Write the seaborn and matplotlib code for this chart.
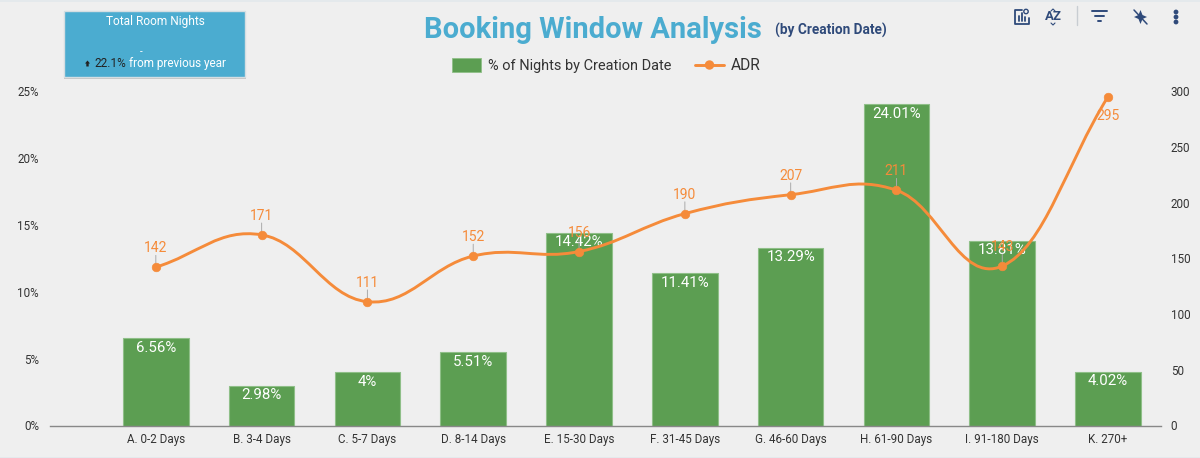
import numpy as np
import pandas as pd
import matplotlib
matplotlib.use('Agg')
import matplotlib.pyplot as plt
import seaborn as sns
from matplotlib.lines import Line2D
from matplotlib.patches import PathPatch, Rectangle, Circle
from matplotlib.path import Path

categories = ['A. 0-2 Days', 'B. 3-4 Days', 'C. 5-7 Days', 'D. 8-14 Days', 'E. 15-30 Days',
              'F. 31-45 Days', 'G. 46-60 Days', 'H. 61-90 Days', 'I. 91-180 Days', 'K. 270+']
pct_nights = [6.56, 2.98, 4.0, 5.51, 14.42, 11.41, 13.29, 24.01, 13.81, 4.02]
pct_labels = ['6.56%', '2.98%', '4%', '5.51%', '14.42%', '11.41%', '13.29%', '24.01%', '13.81%', '4.02%']
adr = [142, 171, 111, 152, 156, 190, 207, 211, 143, 295]
left_ticks = [0, 5, 10, 15, 20, 25]
right_ticks = [0, 50, 100, 150, 200, 250, 300]

GREEN = '#5C9E52'
ORANGE = '#F58B3A'
BLUE = '#4BACD0'
NAVY = '#2F4A7A'
BG = '#EFEFEF'
TEXT = '#333333'

sns.set_theme(style='white')
plt.rcParams['font.family'] = ['Roboto', 'DejaVu Sans']

df = pd.DataFrame({'Window': categories, 'Nights': pct_nights, 'ADR': adr})

fig = plt.figure(figsize=(12, 4.58), dpi=100, facecolor=BG)
W, H = 1200, 458
ax = fig.add_axes([50 / W, 1 - 425.5 / H, (1161 - 50) / W, 334.5 / H], facecolor='none')

sns.barplot(data=df, x='Window', y='Nights', color=GREEN, saturation=1, width=0.62,
            edgecolor='#8FBF88', linewidth=0.8, ax=ax)
ax.set_xlim(-1, 9.5)
ax.set_ylim(0, 25)
ax.set_yticks(left_ticks)
ax.set_yticklabels([f'{t}%' for t in left_ticks], fontsize=8.4, color=TEXT, va='center_baseline')
ax.tick_params(axis='x', labelsize=8.4, labelcolor=TEXT, length=0, pad=5.5)
ax.tick_params(axis='y', length=0, pad=8)
ax.set_xlabel('')
ax.set_ylabel('')
sns.despine(ax=ax, left=True, right=True, top=True)
ax.spines['bottom'].set_color('#888888')
ax.spines['bottom'].set_linewidth(1)

for i, (v, lab) in enumerate(zip(pct_nights, pct_labels)):
    ax.annotate(lab, (i, v), xytext=(0, -2), textcoords='offset points', ha='center', va='top',
                color='white', fontsize=10.8, zorder=6)

ax2 = ax.twinx()
ax2.set_facecolor('none')
ax2.set_ylim(0, 300)
ax2.set_yticks(right_ticks)
ax2.set_yticklabels([str(t) for t in right_ticks], fontsize=8.4, color=TEXT, va='center_baseline')
ax2.tick_params(axis='y', length=0, pad=7)
ax2.set_ylabel('')
ax2.grid(False)
for s in ax2.spines.values():
    s.set_visible(False)

# smooth curve through the ADR points, cardinal spline drawn as beziers
xs = np.arange(len(adr), dtype=float)
ys = np.array(adr, dtype=float)
verts = [(xs[0], ys[0])]
codes = [Path.MOVETO]
k = 0.4
for i in range(len(xs) - 1):
    m0 = (ys[i + 1] - ys[i - 1]) / (xs[i + 1] - xs[i - 1]) if i > 0 else ys[1] - ys[0]
    m1 = (ys[i + 2] - ys[i]) / (xs[i + 2] - xs[i]) if i < len(xs) - 2 else ys[-1] - ys[-2]
    verts += [(xs[i] + k, ys[i] + m0 * k), (xs[i + 1] - k, ys[i + 1] - m1 * k), (xs[i + 1], ys[i + 1])]
    codes += [Path.CURVE4] * 3
ax2.add_patch(PathPatch(Path(verts, codes), fill=False, edgecolor=ORANGE, linewidth=2.1,
                        capstyle='round', zorder=4))
sns.scatterplot(data=df, x=df.index, y='ADR', color=ORANGE, s=38, edgecolor=ORANGE, zorder=5,
                legend=False, ax=ax2)
ax2.set_ylabel('')
ax2.set_xlim(-1, 9.5)

for i, v in enumerate(adr):
    if v == 295:
        ax2.annotate(str(v), (i, v), xytext=(0, -9), textcoords='offset points', ha='center', va='top',
                     color=ORANGE, fontsize=10, zorder=7)
    else:
        ax2.annotate(str(v), (i, v), xytext=(0, 8.5), textcoords='offset points', ha='center', va='bottom',
                     color=ORANGE, fontsize=10, zorder=7)
        ax2.annotate('', (i, v), xytext=(0, 8.5), textcoords='offset points',
                     arrowprops=dict(arrowstyle='-', color='#AAAAAA', lw=0.7, shrinkA=0, shrinkB=0), zorder=3)

# page furniture in pixel coordinates
ui = fig.add_axes([0, 0, 1, 1], facecolor='none', zorder=10)
ui.set_xlim(0, W)
ui.set_ylim(H, 0)
ui.axis('off')
ui.add_patch(Rectangle((0, 0), W, 1.5, color='#E4E9EC', lw=0))
ui.add_patch(Rectangle((0, 456.5), W, 1.5, color='#E4E9EC', lw=0))
ui.add_patch(Rectangle((64, 12), 182, 66.5, facecolor='#C4C4C4', edgecolor='none'))
ui.add_patch(Rectangle((63.5, 11), 181, 66, facecolor=BLUE, edgecolor='#D5DEE2', linewidth=1))
ui.text(155, 22, 'Total Room Nights', color='white', fontsize=8.6, ha='center', va='center')
ui.text(141, 52, '-', color='white', fontsize=7, ha='center', va='center')
ui.add_patch(plt.Polygon([[87.5, 60.5], [85, 63.5], [86.3, 63.5], [86.3, 66.5],
                          [88.7, 66.5], [88.7, 63.5], [90, 63.5]], color='#222222', lw=0))
ui.text(94, 63.5, '22.1%', color='#222222', fontsize=8.5, ha='left', va='center')
ui.text(129, 63.5, 'from previous year', color='white', fontsize=8.45, ha='left', va='center')

ui.text(593, 30, 'Booking Window Analysis', color=BLUE, fontsize=21, fontweight='bold', ha='center', va='center')
ui.text(775, 30, '(by Creation Date)', color=NAVY, fontsize=9.85, fontweight='bold', ha='left', va='center')

ui.add_patch(Rectangle((452, 58), 29, 14, facecolor=GREEN, edgecolor='#8FBF88', linewidth=0.6))
ui.text(488, 65.7, '% of Nights by Creation Date', color=TEXT, fontsize=10.45, ha='left', va='center')
ui.add_line(Line2D([695, 724], [65, 65], color=ORANGE, lw=2.1))
ui.add_patch(Circle((709.5, 65), 4, color=ORANGE))
ui.text(731, 65.7, 'ADR', color=TEXT, fontsize=11.2, ha='left', va='center')

# toolbar icons
ui.add_line(Line2D([1022, 1015, 1015, 1029, 1029], [10, 10, 24, 24, 18], color=NAVY, lw=1.3))
for x0, y0 in [(1019, 16), (1022, 13), (1025, 17)]:
    ui.add_line(Line2D([x0, x0], [y0, 21], color=NAVY, lw=1.3))
ui.add_patch(Circle((1026, 11.5), 2.2, fill=False, edgecolor=NAVY, lw=1))
ui.text(1053, 17, 'AZ', color=NAVY, fontsize=9.5, fontweight='bold', ha='center', va='center')
ui.add_line(Line2D([1051, 1053, 1055], [11, 9, 11], color=NAVY, lw=0.8))
ui.add_line(Line2D([1051, 1053, 1055], [23, 25, 23], color=NAVY, lw=0.8))
ui.add_line(Line2D([1076.5, 1076.5], [6, 25], color='#C8CDD2', lw=1))
for x0, x1, y0 in [(1092, 1107, 11), (1095, 1104, 16), (1098, 1101, 21)]:
    ui.add_line(Line2D([x0, x1], [y0, y0], color=NAVY, lw=1.4))
ui.add_patch(plt.Polygon([[1140.5, 10], [1142.5, 15], [1147, 17], [1142.5, 19], [1140.5, 24],
                          [1138.5, 19], [1134, 17], [1138.5, 15]], color=NAVY, lw=0))
ui.add_line(Line2D([1134, 1147], [10, 24], color=NAVY, lw=1.1))
for y0 in [12, 17, 22]:
    ui.add_patch(Circle((1176, y0), 1.7, color=NAVY))

fig.savefig('out.png', dpi=100, facecolor=BG)
